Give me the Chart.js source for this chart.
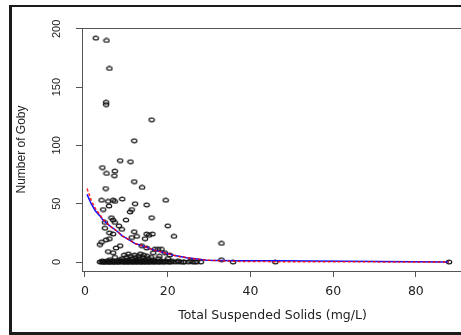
<!DOCTYPE html>
<html>
<head>
<meta charset="utf-8">
<script src="https://cdn.jsdelivr.net/npm/chart.js@4.4.1/dist/chart.umd.min.js"></script>
<style>
  html, body { margin: 0; padding: 0; background: #fff; }
  #page { position: relative; width: 461px; height: 335px; overflow: hidden; }
  #frame { position: absolute; left: 9px; top: 5px; width: 480px; height: 325px;
           border-left: 3px solid #1b1b1b; border-top: 2px solid #1b1b1b; border-bottom: 3px solid #1b1b1b; }
  #wrap { position: absolute; left: 0; top: 0; width: 470px; height: 335px; }
</style>
</head>
<body>
<div id="page">
<div id="frame"></div>
<div id="wrap"><canvas id="chart" width="470" height="335"></canvas></div>
</div>
<script>
// tick labels
const tssTicks = [0, 20, 40, 60, 80]
const gobyTicks = [0, 50, 100, 150, 200]

// observations: total suspended solids (mg/L) and goby counts
const tss = [
  2.6, 5.2, 5.9, 5.1, 5.1, 16.1, 11.9, 8.5, 11.0, 4.2,
  5.2, 7.2, 7.1, 11.9, 13.8, 5.0, 4.0, 5.6, 6.8, 7.2,
  9.0, 12.1, 14.9, 19.5, 5.8, 4.4, 11.3, 10.9, 6.4, 6.8,
  9.9, 16.1, 4.8, 8.2, 8.9, 20.0, 4.8, 5.9, 6.8, 21.5,
  11.9, 12.5, 14.9, 15.5, 16.3, 14.5, 11.3, 4.0, 5.1, 5.9,
  3.6, 7.5, 8.5, 5.6, 6.8, 13.7, 14.9, 16.9, 17.7, 18.5,
  19.3, 16.5, 20.5, 33.0, 7.2,
  // zero counts
  3.6, 4.0, 4.4, 4.8, 5.2, 5.6, 6.0, 6.4, 6.8, 7.2,
  7.7, 8.2, 8.7, 9.2, 9.7, 10.2, 10.7, 11.2, 11.7, 12.2,
  12.7, 13.2, 13.7, 14.2, 14.7, 15.2, 15.7, 16.3, 16.9, 17.5,
  18.1, 18.7, 19.4, 20.1, 20.8, 21.6, 22.4, 23.2, 24.0, 25.0,
  26.0, 27.0, 28.0, 35.8, 46.0, 88.0,
  // small counts
  4.2, 5.4, 6.6, 7.9, 9.0, 10.0, 11.0, 12.0, 13.0, 14.0,
  15.0, 16.0, 17.0, 18.3, 19.6, 21.0, 22.5, 25.5,
  6.0, 8.5, 10.5, 12.5, 14.5, 16.5, 33.0,
  9.0, 11.4, 13.2, 15.3, 17.8, 20.0,
  7.2, 10.0, 12.2, 14.0, 16.0,
  11.0, 13.0, 15.0, 18.0,
  9.5, 12.0, 14.2,
  10.5, 13.4,
  // more low counts in the dense band
  4.6, 5.8, 7.0, 8.0, 9.4, 10.4, 11.5, 12.4, 13.5, 14.4,
  15.5, 16.6, 17.8, 19.0, 20.4, 23.8, 26.5
]
const goby = [
  192, 190, 166, 137, 135, 122, 104, 87, 86, 81,
  76, 78, 74, 69, 64, 63, 53, 52, 53, 52,
  54, 50, 49, 53, 48, 45, 45, 43, 38, 36,
  36, 38, 34, 31, 28, 31, 29, 25, 24, 22,
  26, 22, 24, 23, 24, 20, 21, 17, 19, 20,
  15, 12, 14, 9, 8, 14, 12, 11, 11, 11,
  8, 8, 6, 16, 34,
  0, 0, 0, 0, 0, 0, 0, 0, 0, 0,
  0, 0, 0, 0, 0, 0, 0, 0, 0, 0,
  0, 0, 0, 0, 0, 0, 0, 0, 0, 0,
  0, 0, 0, 0, 0, 0, 0, 0, 0, 0,
  0, 0, 0, 0, 0, 0,
  1, 1, 1, 1, 1, 1, 1, 1, 1, 1,
  1, 1, 1, 1, 1, 1, 1, 1,
  2, 2, 2, 2, 2, 2, 2,
  3, 3, 3, 3, 3, 3,
  4, 4, 4, 4, 4,
  5, 5, 5, 5,
  6, 6, 6,
  7, 7,
  0, 0, 0, 0, 0, 0, 0, 0, 0, 0,
  0, 0, 0, 0, 0, 0, 0
]

// fitted curves
const fitTSS = [0.5, 1.5, 2.5, 3.5, 4.5, 6, 7.7, 9, 10.9, 12, 14, 15.7, 17, 19.7, 21.7, 24.6, 26.6, 29.4, 33, 35.8, 45.9, 88]
const fitBlue = [58, 50, 44, 40, 35.5, 31, 26.6, 22.5, 18.5, 16, 13.8, 11.5, 10, 7.5, 5.5, 3.7, 2.9, 1.6, 1.2, 1.0, 1.0, 0.1]
const fitRed = [63, 53, 46, 41, 36, 31, 26.6, 22.5, 18.5, 16, 13.8, 11.5, 10, 7.5, 5.5, 3.7, 2.9, 1.6, 1.0, 0.6, 0.3, 0]

// open elliptical marker like the original
let marker = document.createElement('canvas')
marker.width = 8
marker.height = 6
let mctx = marker.getContext('2d')
mctx.strokeStyle = '#111'
mctx.lineWidth = 1.2
mctx.beginPath()
mctx.ellipse(4, 3, 2.7, 1.9, 0, 0, Math.PI * 2)
mctx.stroke()

let axisColor = '#555'
let textColor = '#222'

// box top edge and the rotated y tick labels (R style)
let rAxisExtras = {
  id: 'rAxisExtras',
  afterDraw(chart) {
    let {ctx, chartArea} = chart
    ctx.save()
    ctx.strokeStyle = axisColor
    ctx.lineWidth = 1
    ctx.beginPath()
    ctx.moveTo(chartArea.left, chartArea.top + 0.5)
    ctx.lineTo(chartArea.right, chartArea.top + 0.5)
    ctx.stroke()

    let yScale = chart.scales.y
    ctx.fillStyle = textColor
    ctx.font = '11px "Liberation Sans"'
    ctx.textAlign = 'center'
    ctx.textBaseline = 'middle'
    yScale.ticks.forEach(t => {
      let py = yScale.getPixelForValue(t.value)
      ctx.save()
      ctx.translate(57, py)
      ctx.rotate(-Math.PI / 2)
      ctx.fillText(String(t.value), 0, 0)
      ctx.restore()
    })
    ctx.restore()
  }
}

new Chart(document.getElementById('chart').getContext('2d'), {
  type: 'scatter',
  data: {
    datasets: [{
      label: 'fit2',
      data: fitTSS.map((x, i) => ({x: x, y: fitRed[i]})),
      showLine: true,
      borderColor: 'rgba(255, 0, 0, 0.85)',
      borderDash: [3, 2],
      borderWidth: 1.5,
      pointRadius: 0,
      order: 0
    }, {
      label: 'fit1',
      data: fitTSS.map((x, i) => ({x: x, y: fitBlue[i]})),
      showLine: true,
      borderColor: '#1010ff',
      borderWidth: 1.5,
      pointRadius: 0,
      order: 1
    }, {
      label: 'Goby',
      data: tss.map((x, i) => ({x: x, y: goby[i]})),
      pointStyle: marker,
      pointRadius: 3,
      order: 2
    }]
  },
  options: {
    responsive: false,
    animation: false,
    layout: {padding: {left: 0, top: 28, right: 7, bottom: 0}},
    plugins: {legend: {display: false}, tooltip: {enabled: false}},
    scales: {
      x: {
        type: 'linear',
        min: -0.72,
        max: 91.4,
        afterBuildTicks: s => { s.ticks = tssTicks.map(v => ({value: v})) },
        afterFit: s => { s.height = 64 },
        grid: {display: true, drawOnChartArea: false, drawTicks: true, tickLength: 6, color: axisColor},
        border: {display: true, color: axisColor, width: 1},
        ticks: {color: textColor, padding: 7, font: {family: 'DejaVu Sans', size: 12.5}, maxRotation: 0},
        title: {display: true, text: 'Total Suspended Solids (mg/L)', color: textColor,
                font: {family: 'DejaVu Sans', size: 12.5}, padding: {top: 0, bottom: 12}}
      },
      y: {
        type: 'linear',
        min: -7.7,
        max: 200.7,
        afterBuildTicks: s => { s.ticks = gobyTicks.map(v => ({value: v})) },
        afterFit: s => { s.width = 82 },
        grid: {display: true, drawOnChartArea: false, drawTicks: true, tickLength: 6, color: axisColor},
        border: {display: true, color: axisColor, width: 1},
        ticks: {display: false},
        title: {display: true, text: 'Number of Goby', color: textColor,
                font: {family: 'Liberation Sans', size: 12}, padding: {top: 14, bottom: 0}}
      }
    }
  },
  plugins: [rAxisExtras]
})
</script>
</body>
</html>
